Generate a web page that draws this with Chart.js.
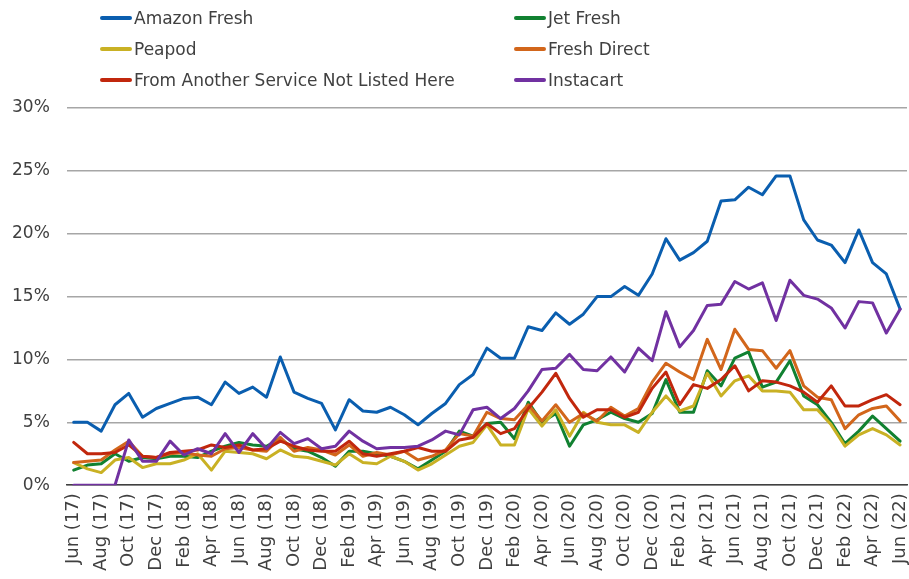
<!DOCTYPE html>
<html>
<head>
<meta charset="utf-8">
<script src="https://cdn.jsdelivr.net/npm/chart.js@4/dist/chart.umd.min.js"></script>
<style>
  html, body { margin: 0; padding: 0; background: #ffffff; }
  #wrap { position: relative; width: 909px; height: 579px; }
  #legend { position: absolute; left: 100px; top: 2px; display: grid; grid-template-columns: 414px 300px; grid-auto-rows: 31px; font-family: "DejaVu Sans", sans-serif; font-size: 17px; color: #404040; }
  .item { display: flex; align-items: center; white-space: nowrap; }
  .swatch { width: 32px; height: 4px; margin-right: 2px; border-radius: 2px; }
</style>
</head>
<body>
<div id="wrap">
  <canvas id="c" width="909" height="579"></canvas>
  <div id="legend"></div>
</div>
<script>
const categories = [
  "Jun (17)","Jul (17)","Aug (17)","Sep (17)","Oct (17)","Nov (17)","Dec (17)",
  "Jan (18)","Feb (18)","Mar (18)","Apr (18)","May (18)","Jun (18)","Jul (18)","Aug (18)","Sep (18)","Oct (18)","Nov (18)","Dec (18)",
  "Jan (19)","Feb (19)","Mar (19)","Apr (19)","May (19)","Jun (19)","Jul (19)","Aug (19)","Sep (19)","Oct (19)","Nov (19)","Dec (19)",
  "Jan (20)","Feb (20)","Mar (20)","Apr (20)","May (20)","Jun (20)","Jul (20)","Aug (20)","Sep (20)","Oct (20)","Nov (20)","Dec (20)",
  "Jan (21)","Feb (21)","Mar (21)","Apr (21)","May (21)","Jun (21)","Jul (21)","Aug (21)","Sep (21)","Oct (21)","Nov (21)","Dec (21)",
  "Jan (22)","Feb (22)","Mar (22)","Apr (22)","May (22)","Jun (22)"
];

const amazonFresh = [5.0,5.0,4.3,6.4,7.3,5.4,6.1,6.5,6.9,7.0,6.4,8.2,7.3,7.8,7.0,10.2,7.4,6.9,6.5,4.4,6.8,5.9,5.8,6.2,5.6,4.8,5.7,6.5,8.0,8.8,10.9,10.1,10.1,12.6,12.3,13.7,12.8,13.6,15.0,15.0,15.8,15.1,16.8,19.6,17.9,18.5,19.4,22.6,22.7,23.7,23.1,24.6,24.6,21.1,19.5,19.1,17.7,20.3,17.7,16.8,14.0];
const jetFresh = [1.2,1.6,1.7,2.5,1.9,2.2,2.1,2.3,2.3,2.2,2.7,3.1,3.4,3.2,3.1,3.7,2.9,2.7,2.2,1.5,2.7,2.7,2.5,2.3,1.9,1.3,2.0,2.7,4.3,3.9,4.9,5.0,3.7,6.6,5.0,5.7,3.1,4.8,5.2,5.8,5.3,5.0,5.7,8.4,5.8,5.8,9.1,7.9,10.1,10.6,7.8,8.2,9.9,7.1,6.4,5.0,3.3,4.3,5.5,4.5,3.5];
const peapod = [1.8,1.3,1.0,2.0,2.2,1.4,1.7,1.7,2.0,2.5,1.2,2.7,2.6,2.5,2.1,2.8,2.3,2.2,1.9,1.6,2.5,1.8,1.7,2.3,1.9,1.2,1.7,2.4,3.1,3.4,4.8,3.2,3.2,6.1,4.7,6.0,3.9,5.8,5.0,4.8,4.8,4.2,5.8,7.1,5.9,6.3,8.9,7.1,8.3,8.7,7.5,7.5,7.4,6.0,6.0,4.8,3.1,4.0,4.5,4.0,3.2];
const freshDirect = [1.8,1.9,2.0,2.8,3.5,2.3,2.2,2.5,2.6,2.4,2.3,2.9,3.0,2.8,2.7,3.8,2.7,3.0,2.8,2.4,3.2,2.3,2.6,2.4,2.7,2.0,2.3,2.8,4.1,3.9,5.8,5.3,5.2,6.4,5.1,6.4,5.0,5.7,5.1,6.2,5.5,6.1,8.2,9.7,9.0,8.4,11.6,9.2,12.4,10.8,10.7,9.3,10.7,7.9,7.0,6.8,4.5,5.6,6.1,6.3,5.1];
const otherService = [3.4,2.5,2.5,2.6,3.2,2.3,2.2,2.6,2.7,2.8,3.2,3.0,3.2,2.8,2.9,3.5,3.1,2.8,2.7,2.7,3.5,2.5,2.3,2.5,2.7,3.0,2.7,2.7,3.6,3.8,4.9,4.1,4.5,6.1,7.4,8.9,6.9,5.4,6.0,6.0,5.4,5.8,7.7,9.0,6.4,8.0,7.7,8.4,9.5,7.5,8.3,8.2,7.9,7.4,6.6,7.9,6.3,6.3,6.8,7.2,6.4];
const instacart = [0,0,0,0,3.6,1.9,1.9,3.5,2.4,2.9,2.5,4.1,2.6,4.1,2.9,4.2,3.3,3.7,2.9,3.1,4.3,3.5,2.9,3.0,3.0,3.1,3.6,4.3,4.0,6.0,6.2,5.3,6.1,7.5,9.2,9.3,10.4,9.2,9.1,10.2,9.0,10.9,9.9,13.8,11.0,12.3,14.3,14.4,16.2,15.6,16.1,13.1,16.3,15.1,14.8,14.1,12.5,14.6,14.5,12.1,14.0];

const seriesNames = ["Amazon Fresh","Jet Fresh","Peapod","Fresh Direct","From Another Service Not Listed Here","Instacart"];
const seriesData = [amazonFresh, jetFresh, peapod, freshDirect, otherService, instacart];
const seriesColors = ["#0A5EAF","#118131","#C9B124","#D2661B","#C1270D","#7131A1"];
const yTicks = [0,5,10,15,20,25,30];

const datasets = seriesNames.map((name, i) => ({
  label: name,
  data: seriesData[i],
  borderColor: seriesColors[i],
  backgroundColor: seriesColors[i],
  borderWidth: 3,
  pointRadius: 0,
  tension: 0,
  fill: false,
  borderJoinStyle: 'round',
  borderCapStyle: 'round',
  order: seriesNames.length - i
}));

const chart = new Chart(document.getElementById('c'), {
  type: 'line',
  data: { labels: categories, datasets },
  options: {
    responsive: false,
    animation: false,
    layout: { padding: { left: 12, right: 2, top: 108, bottom: 0 } },
    plugins: { legend: { display: false }, tooltip: { enabled: false } },
    scales: {
      x: {
        offset: true,
        afterFit: function(scale) { scale.paddingLeft = 0; scale.paddingRight = 0; },
        grid: { display: false, drawTicks: false },
        border: { display: true, color: '#404040', width: 1.5 },
        ticks: {
          autoSkip: false,
          minRotation: 90,
          maxRotation: 90,
          padding: 8,
          color: '#404040',
          font: { family: 'DejaVu Sans', size: 18 },
          callback: function(v, idx) { return idx % 2 === 0 ? categories[idx] : ''; }
        }
      },
      y: {
        min: 0,
        max: 30,
        afterBuildTicks: function(axis) { axis.ticks = yTicks.map(v => ({ value: v })); },
        afterFit: function(scale) { scale.width = scale.width - 17; },
        grid: { color: '#A6A6A6', lineWidth: 1.5, drawTicks: false },
        border: { display: false },
        ticks: {
          padding: 17,
          color: '#404040',
          font: { family: 'DejaVu Sans', size: 17 },
          callback: function(v) { return v + '%'; }
        }
      }
    }
  }
});

const legend = document.getElementById('legend');
chart.data.datasets.forEach(ds => {
  const item = document.createElement('div');
  item.className = 'item';
  const sw = document.createElement('span');
  sw.className = 'swatch';
  sw.style.background = ds.borderColor;
  const tx = document.createElement('span');
  tx.textContent = ds.label;
  item.appendChild(sw);
  item.appendChild(tx);
  legend.appendChild(item);
});
</script>
</body>
</html>
